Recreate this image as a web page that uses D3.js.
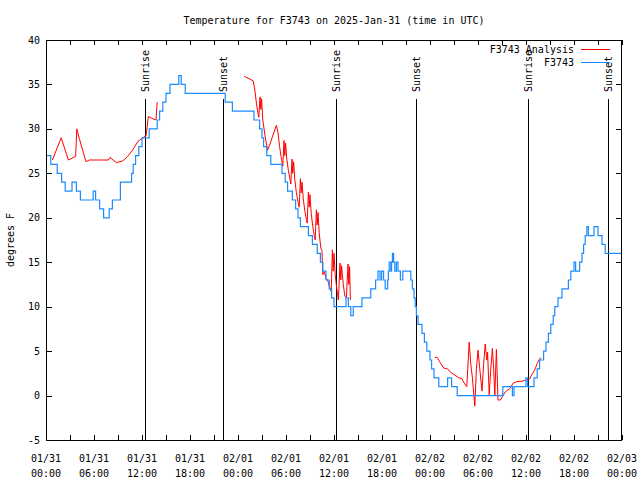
<!DOCTYPE html>
<html><head><meta charset="utf-8">
<script src="https://cdnjs.cloudflare.com/ajax/libs/d3/7.8.5/d3.min.js"></script>
<style>
html,body{margin:0;padding:0;background:#fff;}
svg text{font-family:"DejaVu Sans Mono",monospace;font-size:10px;fill:#000;}
</style></head>
<body><svg id="c" width="640" height="480"></svg>
<script>
// ---- data (hours after 2025-01-31 00:00 UTC, degrees F) ----
const titleText = "Temperature for F3743 on 2025-Jan-31 (time in UTC)";
const yLabel = "degrees F";
const yTicks = [-5, 0, 5, 10, 15, 20, 25, 30, 35, 40];
const seriesNames = ["F3743 Analysis", "F3743"];
const seriesColors = ["#ff0000", "#1a8cff"];

const sunEvents = [
  {label: "Sunrise", h: 12.375}, {label: "Sunset", h: 22.17},
  {label: "Sunrise", h: 36.3},   {label: "Sunset", h: 46.2},
  {label: "Sunrise", h: 60.3},   {label: "Sunset", h: 70.2}
];

// observed station temperature: [hour, value] (value holds until next hour)
const stationObs = [
 [0,27],[0.6,26],[1.4,25],[1.95,24],[2.4,23],[3.25,24],[3.8,23],[4.3,22],[5.9,23],[6.2,22],[6.7,21],[7.2,20],
 [7.9,21],[8.3,22],[9.3,24],[10.7,25],[10.9,26],[11.2,27],[11.6,28],[12.0,29],[12.9,30],[13.9,31],[14.2,32],
 [14.6,33],[15.0,34],[15.5,35],[16.6,36],[16.9,35],[17.4,34],[22.4,33],[23.3,32],[26.0,31],[26.7,30],[27.0,29],
 [27.2,28],[27.6,27],[28.1,26],[29.5,25],[29.9,24],[30.2,23],[30.8,22],[31.2,21],[31.5,20],[31.8,19],[32.8,18],
 [33.3,17],[33.9,16],[34.3,15],[34.6,14],[35.0,13],[35.4,12],[35.7,11],[36.0,10],[37.5,11],[37.8,10],[38.1,9],
 [38.4,10],[39.5,11],[40.6,12],[41.2,13],[41.5,14],[41.75,13],[41.95,14],[42.2,13],[42.4,12],[42.7,13],[42.8,14],
 [42.9,15],[43.1,14],[43.2,15],[43.3,16],[43.45,15],[43.6,14],[43.8,15],[44.0,14],[44.3,13],[44.6,14],[45.6,13],
 [45.8,12],[46.0,11],[46.15,10],[46.3,9],[46.5,8],[47.0,7],[47.3,6],[47.6,5],[48.0,4],[48.2,3],[48.5,2],[49.1,1],
 [50.2,2],[50.7,1],[51.4,0],[57.1,1],[58.3,0],[58.5,1],[60.0,2],[60.2,1],[61.0,2],[61.4,3],[61.7,4],[62.2,5],
 [62.5,6],[62.8,7],[63.1,8],[63.4,9],[63.6,10],[64.0,11],[64.5,12],[65.3,13],[65.6,14],[66.0,15],[66.2,14],
 [66.7,15],[67.0,16],[67.2,17],[67.4,18],[67.6,19],[67.8,18],[68.5,19],[69.0,18],[69.5,17],[69.9,16],[72,16]
];

// analysis series, three separate runs
const analysisRun1 = [
 [0.8,26.5],[1.9,29.0],[2.8,26.5],[3.7,26.9],[3.85,30.0],[4.2,28.8],[5.0,26.3],[5.4,26.5],[7.8,26.5],[8.0,26.8],
 [8.8,26.2],[9.6,26.4],[10.2,26.9],[10.8,27.6],[11.5,28.6],[12.1,29.0],[12.5,29.2],[12.8,31.4],[13.2,31.2],
 [13.75,31.0],[13.9,33.0]
];
const analysisRun2 = [
 [24.8,35.9],[25.5,35.6],[25.9,35.4],[26.1,34.4],[26.3,32.9],[26.5,31.7],[26.6,31.3],
 [26.75,33.6],[26.85,32.2],[26.95,33.4],[27.1,31.0],[27.4,29.1],[27.7,27.6],
 [28.0,28.3],[28.3,29.1],[28.6,29.9],[28.8,30.4],[29.0,29.6],[29.2,28.0],[29.4,26.8],[29.6,25.8],
 [29.75,28.7],[29.85,27.0],[29.95,28.4],[30.1,26.6],[30.3,25.3],[30.5,24.3],[30.6,23.8],
 [30.75,26.6],[30.85,25.0],[30.95,26.3],[31.1,24.3],[31.3,22.8],[31.5,21.8],[31.65,21.2],
 [31.8,24.4],[31.9,22.8],[32.0,24.0],[32.15,22.2],[32.35,20.8],[32.55,19.8],[32.65,19.4],
 [32.8,22.9],[32.9,21.2],[33.0,22.6],[33.15,20.5],[33.35,19.0],[33.55,17.9],[33.65,17.5],
 [33.8,20.9],[33.9,19.2],[34.0,20.6],[34.15,18.3],[34.35,16.6],[34.5,16.3],[34.6,13.6],[34.8,13.9],
 [35.0,13.2],[35.2,13.0],[35.45,12.2],[35.65,11.7],
 [35.8,16.4],[35.9,14.0],[36.0,16.0],[36.15,13.6],[36.35,12.0],[36.55,10.75],
 [36.75,14.9],[36.85,13.0],[36.95,14.6],[37.15,12.6],[37.35,11.2],[37.55,11.0],
 [37.75,14.8],[37.85,12.5],[37.95,14.5],[38.05,10.75]
];
const analysisRun3 = [
 [48.6,4.3],[48.9,4.3],[49.2,3.8],[49.7,3.1],[50.2,3.0],[50.6,2.6],[51.1,2.3],[51.6,2.0],[52.0,1.9],[52.2,1.5],
 [52.6,1.0],[52.9,6.0],[53.1,3.5],[53.3,2.0],[53.6,-1.2],[53.8,3.0],[54.0,5.1],[54.2,3.2],[54.5,0.5],[54.7,3.5],
 [54.9,5.8],[55.1,4.0],[55.2,4.9],[55.4,0.1],[55.6,3.0],[55.8,5.3],[55.95,3.2],[56.1,0.0],[56.3,5.2],[56.5,-0.5],
 [56.8,-0.5],[57.4,0.4],[58.0,0.8],[58.4,1.4],[59.0,1.6],[59.5,1.6],[60.1,1.8],[60.5,1.9],[60.7,2.3],[61.1,2.9],
 [61.4,3.6],[61.75,4.2],[61.9,4.2]
];

// ---- drawing ----
const L = 46, R = 622, T = 40, B = 440;
const t0 = Date.UTC(2025, 0, 31);
const toDate = h => new Date(t0 + h * 3600e3);

const svg = d3.select("#c");
const x = d3.scaleUtc().domain([toDate(0), toDate(72)]).range([L, R]);
const y = d3.scaleLinear().domain([-5, 40]).range([B, T]);

svg.append("text").attr("x", 334).attr("y", 20).attr("dy", "0.35em")
  .attr("text-anchor", "middle").text(titleText);

svg.append("text").attr("transform", `translate(10,${(T + B) / 2}) rotate(-90)`)
  .attr("dy", "0.35em").attr("text-anchor", "middle").text(yLabel);

const g = svg.append("g");

// ticks
const minorTicks = d3.range(0, 73, 3).map(toDate);
const majorTicks = d3.range(0, 73, 6).map(toDate);
g.selectAll("line.xt").data(minorTicks).join("line")
  .attr("x1", d => Math.round(x(d)) + 0.5).attr("x2", d => Math.round(x(d)) + 0.5)
  .attr("y1", B).attr("y2", B - 5).attr("stroke", "#000");
g.selectAll("line.xtt").data(minorTicks).join("line")
  .attr("x1", d => Math.round(x(d)) + 0.5).attr("x2", d => Math.round(x(d)) + 0.5)
  .attr("y1", T).attr("y2", T + 5).attr("stroke", "#000");
g.selectAll("line.yt").data(yTicks).join("line")
  .attr("x1", L).attr("x2", L + 6)
  .attr("y1", d => Math.round(y(d)) + 0.5).attr("y2", d => Math.round(y(d)) + 0.5).attr("stroke", "#000");
g.selectAll("line.ytr").data(yTicks).join("line")
  .attr("x1", R - 6).attr("x2", R)
  .attr("y1", d => Math.round(y(d)) + 0.5).attr("y2", d => Math.round(y(d)) + 0.5).attr("stroke", "#000");

// y labels
svg.selectAll("text.yl").data(yTicks).join("text")
  .attr("x", L - 6).attr("y", d => y(d)).attr("dy", "0.35em")
  .attr("text-anchor", "end").text(d => d);

// x labels
const fDay = d3.utcFormat("%m/%d"), fHour = d3.utcFormat("%H:%M");
const xl = svg.selectAll("text.xl").data(majorTicks).join("text")
  .attr("text-anchor", "middle");
xl.append("tspan").attr("x", d => x(d)).attr("y", 458).attr("dy", "0.35em").text(d => fDay(d));
xl.append("tspan").attr("x", d => x(d)).attr("y", 473).attr("dy", "0.35em").text(d => fHour(d));

// sun lines + labels
sunEvents.forEach(e => {
  const px = Math.round(x(toDate(e.h))) + 0.5;
  g.append("line").attr("x1", px).attr("x2", px).attr("y1", 99).attr("y2", B)
    .attr("stroke", "#000");
  svg.append("text").attr("transform", `translate(${px},92) rotate(-90)`)
    .attr("dy", "0.35em").attr("text-anchor", "start").text(e.label);
});

// series
const lineLin = d3.line().x(d => x(toDate(d[0]))).y(d => y(d[1]));
const lineStep = d3.line().curve(d3.curveStepAfter).x(d => x(toDate(d[0]))).y(d => y(d[1]));

[analysisRun1, analysisRun2, analysisRun3].forEach(run => {
  g.append("path").attr("d", lineLin(run)).attr("fill", "none")
    .attr("stroke", seriesColors[0]).attr("stroke-width", 1);
});
g.append("path").attr("d", lineStep(stationObs)).attr("fill", "none")
  .attr("stroke", seriesColors[1]).attr("stroke-width", 1.2);

// border
svg.append("rect").attr("x", L + 0.5).attr("y", T + 0.5).attr("width", R - L - 1).attr("height", B - T)
  .attr("fill", "none").attr("stroke", "#000");

// legend
seriesNames.forEach((n, i) => {
  const ly = 49.5 + i * 13;
  svg.append("text").attr("x", 574).attr("y", ly).attr("dy", "0.35em")
    .attr("text-anchor", "end").text(n);
  svg.append("line").attr("x1", 581).attr("x2", 610).attr("y1", ly).attr("y2", ly)
    .attr("stroke", seriesColors[i]);
});
</script></body></html>
